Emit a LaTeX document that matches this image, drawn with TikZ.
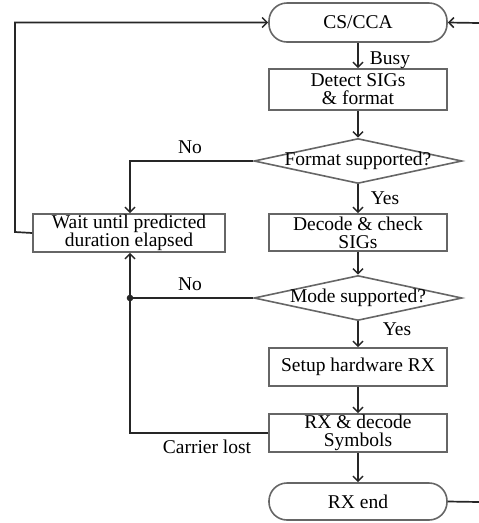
\documentclass[tikz,border=0pt]{standalone}
\usepackage{fontspec}
\setmainfont{Liberation Serif}
\usetikzlibrary{shapes.geometric,arrows.meta}
\begin{document}
\begin{tikzpicture}[x=1pt,y=-1pt,
  font=\fontsize{19.5}{18}\selectfont,
  box/.style={draw=black!60,line width=1.6pt,rectangle,minimum width=178pt,inner sep=0pt,align=center},
  term/.style={box,rounded corners=18pt},
  dia/.style={draw=black!60,line width=1.6pt,diamond,minimum width=208pt,minimum height=45pt,inner sep=0pt},
  flow/.style={draw=black!85,line width=1.7pt,-{Straight Barb[length=5pt,width=10pt,line width=1.5pt]}},
  plain/.style={draw=black!85,line width=1.7pt},
  lab/.style={inner sep=0pt}]
\useasboundingbox (0,0) rectangle (479,523);
\node[term,minimum height=39pt] (cs) at (358,22.5) {CS/CCA};
\node[box,minimum height=41pt] (detect) at (358,89.5) {Detect SIGs\\\& format};
\node[dia] (fmt) at (358,161) {};
\node at (fmt) {Format supported?};
\node[box,minimum height=37pt] (decode) at (358,232.5) {Decode \& check\\SIGs};
\node[box,minimum width=192pt,minimum height=38pt] (wait) at (129,233) {Wait until predicted\\duration elapsed};
\node[dia] (mode) at (358,298) {};
\node at (mode) {Mode supported?};
\node[box,minimum height=38pt] (setup) at (358,367) {Setup hardware RX};
\node[box,minimum height=38pt] (rxdec) at (358,433) {RX \& decode\\Symbols};
\node[term,minimum height=37pt] (rxend) at (358,501.5) {RX end};
\coordinate (dot) at (130,298);
\coordinate (rin) at (479,23);
\coordinate (rout) at (479,502);
\coordinate (lc) at (15,232);

\draw[flow] (cs) -- (detect);
\draw[flow] (detect) -- (fmt);
\draw[flow] (fmt) -- (decode);
\draw[flow] (fmt.west) -| (wait.north -| dot);
\draw[flow] (decode) -- (mode);
\draw[plain] (mode.west) -- (dot);
\draw[flow] (mode) -- (setup);
\draw[flow] (setup) -- (rxdec);
\draw[flow] (rxdec.west) -| (wait.south -| dot);
\draw[flow] (rxdec) -- (rxend);
\draw[plain] (rxend.east) -- (rout);
\draw[flow] (rin) -- (cs.east);
\draw[flow] (wait.west) -- (lc) |- (cs.west);
\fill[black!85] (dot) circle (3.3pt);

\node[lab] (busy) at (390,60) {Busy};
\node[lab] (yes1) at (385,198) {Yes};
\node[lab] (no1) at (190,147) {No};
\node[lab] (no2) at (190,284) {No};
\node[lab] (yes2) at (397,329) {Yes};
\node[lab] (carrier) at (207,447) {Carrier lost};
\end{tikzpicture}
\end{document}
